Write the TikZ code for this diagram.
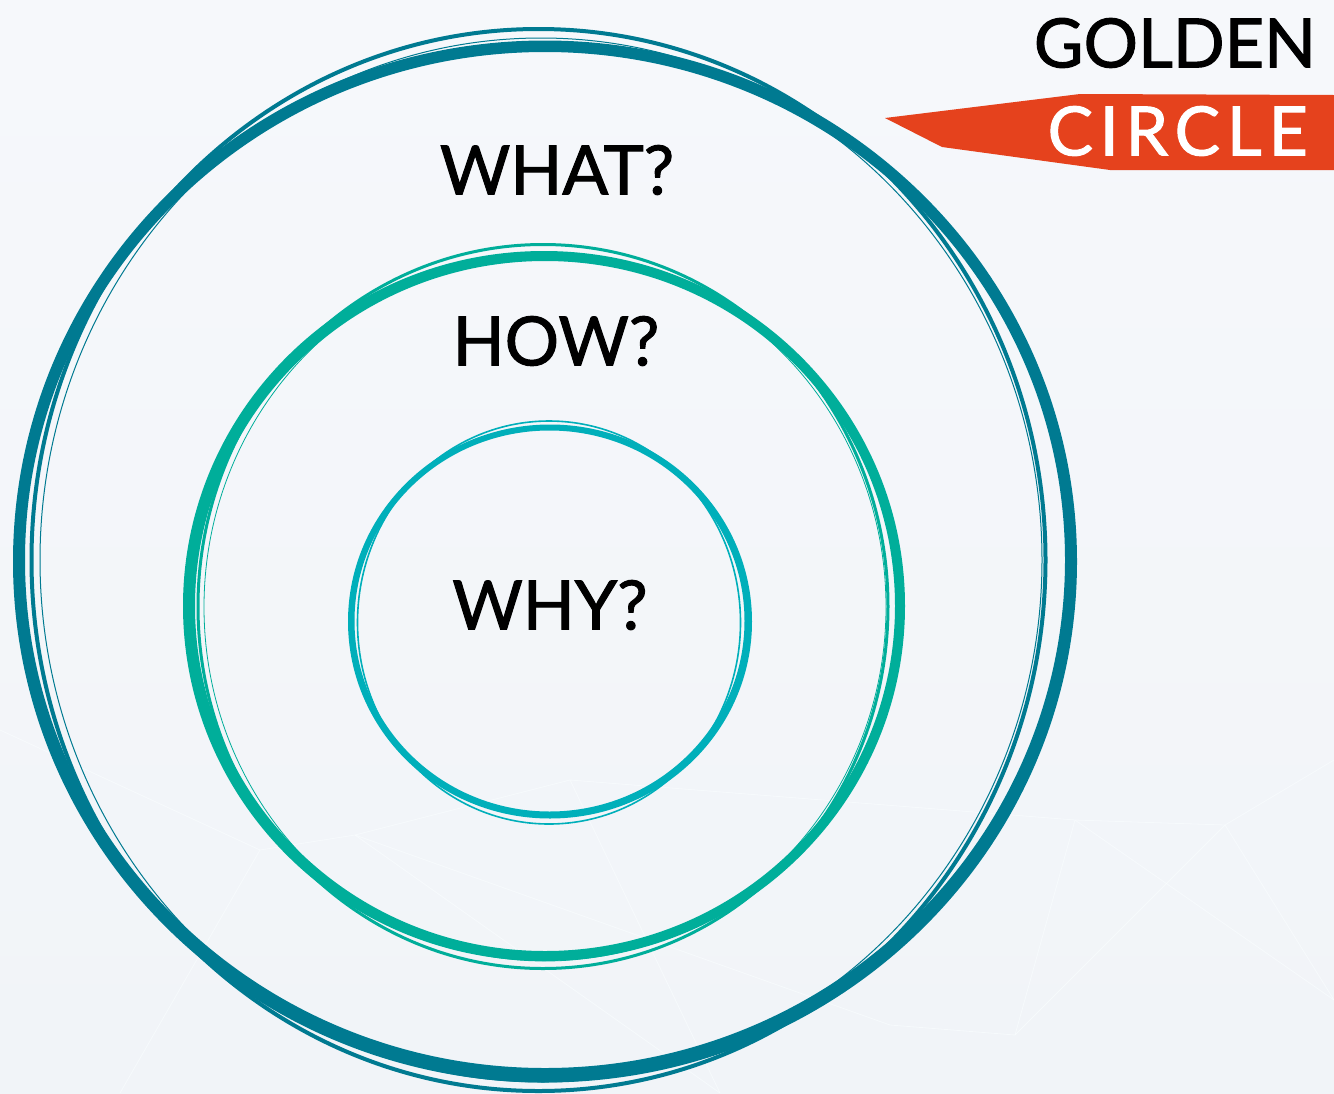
\documentclass[tikz,border=0pt]{standalone}
\usepackage{fontspec}
\setmainfont{Lato}[FakeBold=1.5]
\definecolor{bgtop}{HTML}{F6F8FB}
\definecolor{bgbot}{HTML}{F1F4F8}
\definecolor{outerc}{HTML}{007A91}
\definecolor{midc}{HTML}{00AE9A}
\definecolor{innerc}{HTML}{00AFBA}
\definecolor{bannerc}{HTML}{E5421D}
\definecolor{netc}{HTML}{FAFEFF}
\tikzset{
  lbl/.style={font=\fontsize{68}{70}\selectfont, text=black, inner sep=0pt},
  net/.style={draw=netc, line width=0.8pt, opacity=0.6},
}
\begin{document}
\begin{tikzpicture}[x=1pt,y=-1pt]
\useasboundingbox (0,0) rectangle (1334,1093);
\shade[top color=bgtop, bottom color=bgbot] (0,0) rectangle (1334,1093);
% faint network in background
\coordinate (n1) at (0,730);
\coordinate (n2) at (260,850);
\coordinate (n3) at (355,835);
\coordinate (n4) at (570,780);
\coordinate (n5) at (890,1025);
\coordinate (n6) at (1015,1035);
\coordinate (n7) at (1075,820);
\coordinate (n8) at (1225,825);
\coordinate (n9) at (1334,760);
\coordinate (n10) at (120,1093);
\coordinate (n11) at (720,1093);
\coordinate (n12) at (1334,1000);
\draw[net] (n1) -- (n2) -- (n3) -- (n4) -- (n7) -- (n8) -- (n9);
\draw[net] (n2) -- (n10);
\draw[net] (n3) -- (n5) -- (n6) -- (n8) -- (n12);
\draw[net] (n4) -- (n11);
\draw[net] (n7) -- (n6);
\draw[net] (n3) -- (n11);
\draw[net] (n7) -- (n12);
% outer circle (WHAT)
\fill[outerc, even odd rule] (545,561.5) ellipse[x radius=532, y radius=521]
                             (545,560) ellipse[x radius=520, y radius=508];
\draw[outerc, line width=4pt] (538.5,560) ellipse[x radius=507, y radius=531];
\draw[outerc, line width=1pt] (541,560) ellipse[x radius=501, y radius=522];
% middle circle (HOW)
\fill[midc, even odd rule] (544,606) ellipse[x radius=361, y radius=355]
                           (545,606) ellipse[x radius=350, y radius=345];
\draw[midc, line width=3pt] (543,606.5) ellipse[x radius=345, y radius=362];
\draw[midc, line width=0.8pt] (545,607) ellipse[x radius=341, y radius=354];
% inner circle (WHY)
\fill[innerc, even odd rule] (550,621.5) ellipse[x radius=202, y radius=197]
                             (549.5,621) ellipse[x radius=195, y radius=190.5];
\draw[innerc, line width=1.6pt] (549,622.5) ellipse[x radius=191.5, y radius=201.5];
% labels
\node[lbl] (what) at (557,170) {WHAT?};
\node[lbl] (how) at (556,341) {HOW?};
\node[lbl] (why) at (550,605) {WHY?};
% title
\node[lbl, anchor=east] (golden) at (1316,43) {GOLDEN};
\fill[bannerc] (885,118) -- (1080,94) -- (1334,95) -- (1334,170) -- (1110,170) -- (942,147) -- cycle;
\node[lbl, text=white, anchor=east] (circle) at (1308,131) {\addfontfeatures{LetterSpace=10}CIRCLE};
\end{tikzpicture}
\end{document}
